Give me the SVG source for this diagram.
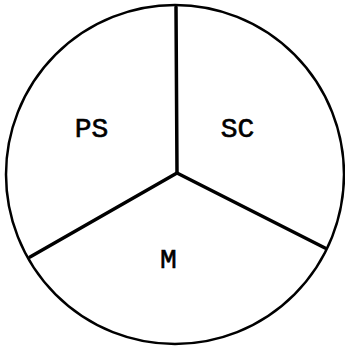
<svg xmlns="http://www.w3.org/2000/svg" width="345" height="348" viewBox="0 0 345 348">
<style>
.lbl{font-family:"Liberation Mono","Courier New",monospace;font-size:28px;fill:#000;stroke:#000;stroke-width:0.6;text-anchor:middle}
.spoke{stroke:#000;stroke-width:3.5;fill:none;stroke-linecap:round}
</style>
<rect width="345" height="348" fill="#fff"/>
<g id="circle"><ellipse cx="175" cy="174.5" rx="169" ry="169.5" fill="none" stroke="#000" stroke-width="2.5"/></g>
<g id="connectors">
<line class="spoke" x1="176" y1="7" x2="177" y2="173"/>
<line class="spoke" x1="177" y1="173" x2="30" y2="257"/>
<line class="spoke" x1="177" y1="173" x2="325" y2="248"/>
</g>
<g id="PS"><text class="lbl" x="91.5" y="137">PS</text></g>
<g id="SC"><text class="lbl" x="237.5" y="137">SC</text></g>
<g id="M"><text class="lbl" x="168.5" y="268">M</text></g>
</svg>
